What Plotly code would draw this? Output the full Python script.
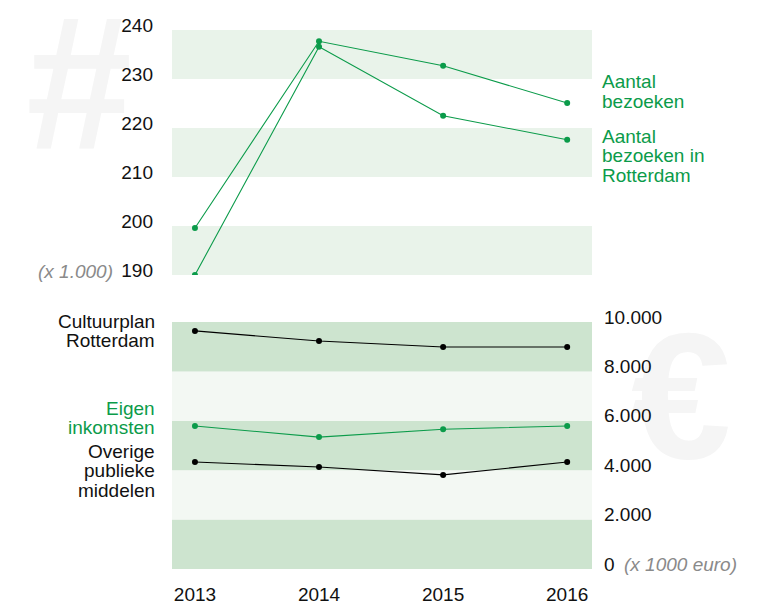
import base64
import plotly.graph_objects as go

years = [2013, 2014, 2015, 2016]

# bezoeken (x 1.000)
bezoeken = [199.6, 237.7, 232.7, 225.1]
bezoeken_rotterdam = [190.0, 236.6, 222.5, 217.6]

# financien (x 1000 euro)
cultuurplan = [9640, 9230, 8990, 8990]
eigen_inkomsten = [5790, 5340, 5660, 5790]
overige_publiek = [4330, 4130, 3810, 4330]

top_ticks = [190, 200, 210, 220, 230, 240]
bottom_ticks = [0, 2000, 4000, 6000, 8000, 10000]
bottom_ticktext = ["0", "2.000", "4.000", "6.000", "8.000", "10.000"]

GREEN = "#0b9b4a"
FONT = "Liberation Sans, Arial, sans-serif"
W, H = 766, 605
OFF = 8  # body margin van de html-pagina

def px(x):
    return (x - OFF) / W

def py(y):
    return 1 - (y - OFF) / H

fig = go.Figure()

def add_line(y, color, xa, ya):
    fig.add_trace(go.Scatter(
        x=years, y=y, mode="lines+markers", xaxis=xa, yaxis=ya,
        line=dict(color=color, width=1.1),
        marker=dict(color=color, size=6),
        showlegend=False, hoverinfo="x+y"
    ))

add_line(bezoeken, GREEN, "x", "y")
add_line(bezoeken_rotterdam, GREEN, "x", "y")
add_line(cultuurplan, "#000000", "x2", "y2")
add_line(eigen_inkomsten, GREEN, "x2", "y2")
add_line(overige_publiek, "#000000", "x2", "y2")

shapes = []
for lo in [190, 210, 230]:
    shapes.append(dict(type="rect", xref="x domain", yref="y", x0=0, x1=1,
                       y0=lo, y1=lo + 10, fillcolor="#e9f3ea", line_width=0, layer="below"))
for i, lo in enumerate([0, 2000, 4000, 6000, 8000]):
    shapes.append(dict(type="rect", xref="x2 domain", yref="y2", x0=0, x1=1,
                       y0=lo, y1=lo + 2000,
                       fillcolor="#cde4cf" if i % 2 == 0 else "#f3f8f3",
                       line_width=0, layer="below"))

# watermerken als svg-plaatjes onder alles
def glyph_img(ch, cx, base, size, w, h):
    svg = (f'<svg xmlns="http://www.w3.org/2000/svg" width="{w}" height="{h}">'
           f'<text x="{w/2}" y="{h-20}" text-anchor="middle" '
           f'font-family="Liberation Sans, Arial" font-weight="bold" '
           f'font-size="{size}" fill="#f5f5f5">{ch}</text></svg>')
    src = "data:image/svg+xml;base64," + base64.b64encode(svg.encode("utf-8")).decode()
    return dict(source=src, xref="paper", yref="paper",
                x=px(cx - w / 2), y=py(base + 20 - h), sizex=w / W, sizey=h / H,
                xanchor="left", yanchor="top", sizing="stretch", layer="below")

images = [
    glyph_img("#", 79, 148, 190, 160, 200),
    glyph_img("€", 681, 458, 180, 160, 200),
]

def ann(text, x, y, color="#111111", xanchor="left", size=19, italic=False):
    if italic:
        text = "<i>" + text + "</i>"
    return dict(text=text, x=px(x), y=py(y), xref="paper", yref="paper",
                xanchor=xanchor, yanchor="middle", showarrow=False,
                font=dict(family=FONT, size=size, color=color))

annotations = []
def label(lines, x, y0, color="#111111", xanchor="left", step=19.5):
    for i, t in enumerate(lines):
        annotations.append(ann(t, x, y0 + i * step, color, xanchor))

label(["Aantal", "bezoeken"], 600, 82, GREEN)
label(["Aantal", "bezoeken in", "Rotterdam"], 600, 136, GREEN)
label(["Cultuurplan", "Rotterdam"], 157, 321, xanchor="right")
label(["Eigen", "inkomsten"], 157, 408, GREEN, xanchor="right")
label(["Overige", "publieke", "middelen"], 157, 451, xanchor="right")
annotations.append(ann("(x 1.000)", 115, 272, "#8a8a8a", xanchor="right", size=19, italic=True))
annotations.append(ann("(x 1000 euro)", 622, 564, "#8a8a8a", size=19, italic=True))

tickfont = dict(family=FONT, size=19, color="#111111")
xrange = [2012.815, 2016.2]
xdom = [px(172), px(592)]
noline = dict(showgrid=False, zeroline=False, showline=False, ticks="", automargin=False)

fig.update_layout(
    width=W, height=H,
    margin=dict(l=0, r=0, t=0, b=0, pad=0),
    paper_bgcolor="white", plot_bgcolor="rgba(0,0,0,0)",
    font=dict(family=FONT),
    shapes=shapes, images=images, annotations=annotations,
    xaxis=dict(domain=xdom, range=xrange, anchor="y", showticklabels=False, **noline),
    yaxis=dict(domain=[py(275), py(30)], range=[190, 240], side="left",
               tickvals=top_ticks, tickfont=tickfont,
               ticklabelstandoff=18, ticklabelshift=-5, **noline),
    xaxis2=dict(domain=xdom, range=xrange, anchor="y2", tickvals=years,
                tickfont=tickfont, ticklabelstandoff=12, **noline),
    yaxis2=dict(domain=[py(569), py(322)], range=[0, 10000], side="right",
                anchor="x2", tickvals=bottom_ticks, ticktext=bottom_ticktext,
                tickfont=tickfont, ticklabelstandoff=11, ticklabelshift=-5, **noline),
)

fig.write_html("out.html")
